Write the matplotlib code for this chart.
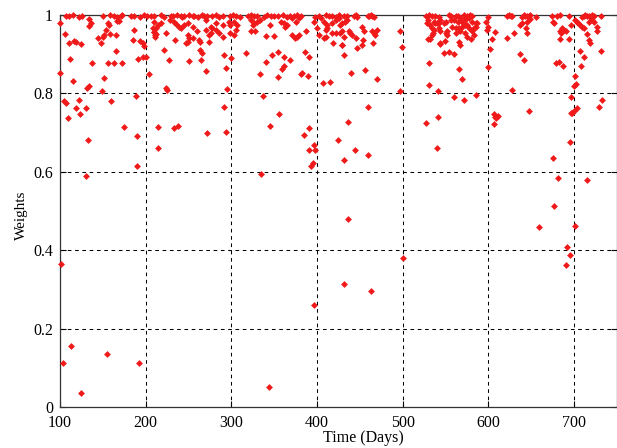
import matplotlib
matplotlib.use("Agg")
import matplotlib.pyplot as plt

# axis ticks
x_ticks = [100, 200, 300, 400, 500, 600, 700]
y_ticks = [0, 0.2, 0.4, 0.6, 0.8, 1.0]
y_tick_labels = ["0", "0.2", "0.4", "0.6", "0.8", "1"]

# points sitting on the top edge (weight ~ 1)
top_days = [107, 111, 115, 122, 126, 150, 159, 163, 167, 171, 173, 183, 187, 194, 198, 202,
            206, 210, 218, 222, 230, 232, 237, 241, 243, 245, 251, 255, 257, 261, 266, 268,
            272, 278, 282, 286, 290, 298, 302, 306, 310, 319, 323, 327, 330, 338, 342, 346,
            350, 354, 360, 365, 369, 373, 377, 381, 398, 402, 410, 414, 418, 422, 426, 431,
            435, 443, 445, 447, 459, 461, 463, 464, 466, 527, 531, 534, 538, 542, 554, 556,
            562, 564, 571, 573, 575, 577, 579, 581, 600, 622, 624, 626, 628, 639, 641, 643,
            645, 647, 649, 655, 674, 680, 684, 694, 709, 711, 713, 715, 717, 719, 721, 723, 731]
top_weights = [0.998, 0.997, 0.999, 0.996, 0.998, 0.997, 0.999, 0.998, 0.996, 0.998, 0.999,
               0.997, 0.998, 0.996, 0.999, 0.998, 0.997, 0.998, 0.999, 0.996, 0.998, 0.997,
               0.999, 0.998, 0.996, 0.998, 0.999, 0.997, 0.998, 0.996, 0.999, 0.998, 0.997,
               0.998, 0.999, 0.996, 0.998, 0.997, 0.999, 0.998, 0.996, 0.998, 0.999, 0.997,
               0.998, 0.996, 0.999, 0.998, 0.997, 0.998, 0.999, 0.996, 0.998, 0.997, 0.999,
               0.998, 0.996, 0.998, 0.999, 0.997, 0.998, 0.996, 0.999, 0.998, 0.997, 0.998,
               0.999, 0.996, 0.998, 0.997, 0.999, 0.998, 0.996, 0.998, 0.999, 0.997, 0.998,
               0.996, 0.999, 0.998, 0.997, 0.998, 0.999, 0.996, 0.998, 0.997, 0.999, 0.998,
               0.996, 0.998, 0.999, 0.997, 0.998, 0.996, 0.999, 0.998, 0.997, 0.998, 0.999,
               0.996, 0.998, 0.997, 0.999, 0.998, 0.996, 0.998, 0.999, 0.997, 0.998, 0.996,
               0.999, 0.998, 0.997]

# upper band, 0.7 - 0.99
band_days = [
    100, 134, 136, 134, 156, 157, 167, 169, 187, 154, 152, 150, 159, 165, 144, 148, 106, 111,
    117, 119, 125, 185, 194, 197, 198, 209, 210, 211, 165, 191, 197, 200, 112, 138, 156, 163,
    173, 204, 100, 115, 152, 132, 134, 149, 189, 105, 107, 122, 160, 119, 130, 124, 110, 175,
    210, 214, 218, 212, 210, 212, 211, 224, 228, 233, 235, 239, 241, 245, 249, 255, 270, 276,
    282, 290, 297, 299, 303, 307, 305, 299, 303, 290, 286, 282, 278, 276, 274, 270, 260, 255,
    249, 251, 249, 247, 262, 264, 274, 234, 222, 227, 251, 264, 266, 265, 270, 292, 300, 294,
    295, 225, 224, 291, 214, 233, 238,
    323, 326, 330, 334, 325, 323, 328, 340, 345, 350, 358, 361, 365, 363, 371, 375, 379, 371,
    374, 377, 379, 387, 396, 400, 402, 405, 408, 412, 418, 422, 426, 427, 410, 412, 408, 411,
    418, 422, 427, 431, 419, 429, 317, 347, 354, 340, 361, 368, 386, 391, 361, 359, 334, 354,
    381, 383, 389, 407, 415, 337, 356, 345, 391,
    433, 435, 429, 452, 455, 429, 437, 439, 441, 445, 454, 464, 466, 468, 470, 429, 447, 453,
    465, 432, 497, 499, 440, 456, 470, 497, 459, 436,
    530, 528, 532, 538, 542, 536, 535, 534, 529, 532, 543, 531, 531, 541, 541, 527,
    536, 540, 544, 548, 550, 556, 560, 564, 567, 569, 573, 577, 581, 585, 587, 575, 534, 542,
    544, 552, 552, 550, 558, 562, 566, 569, 573, 577, 583, 585, 567, 573, 575, 581, 583, 562,
    543, 549, 566, 567, 580, 548, 554, 560, 566, 569, 560, 571, 585, 597, 599, 598, 608, 604,
    602, 600, 630, 622, 637, 641, 627, 606, 608, 609, 611, 606,
    639, 637, 645, 649, 644, 645, 675, 677, 696, 701, 703, 705, 707, 709, 711, 717, 721, 723,
    727, 727, 686, 688, 690, 684, 685, 683, 694, 715, 717, 719, 679, 682, 687, 707, 712, 731,
    708, 701, 702, 700, 696, 733, 729, 703, 700, 698, 696, 647]
band_weights = [
    0.980, 0.989, 0.979, 0.972, 0.980, 0.974, 0.985, 0.985, 0.962, 0.962, 0.949, 0.945, 0.951,
    0.949, 0.941, 0.928, 0.952, 0.928, 0.934, 0.931, 0.925, 0.936, 0.934, 0.928, 0.922, 0.966,
    0.957, 0.949, 0.908, 0.889, 0.894, 0.894, 0.889, 0.877, 0.877, 0.877, 0.877, 0.849, 0.851,
    0.832, 0.840, 0.813, 0.819, 0.806, 0.793, 0.781, 0.776, 0.783, 0.781, 0.762, 0.762, 0.747,
    0.736, 0.715,
    0.983, 0.974, 0.979, 0.966, 0.957, 0.952, 0.945, 0.953, 0.987, 0.983, 0.977, 0.970, 0.966,
    0.975, 0.979, 0.970, 0.987, 0.970, 0.979, 0.975, 0.983, 0.975, 0.983, 0.975, 0.962, 0.953,
    0.949, 0.945, 0.955, 0.962, 0.966, 0.953, 0.949, 0.962, 0.958, 0.941, 0.949, 0.941, 0.932,
    0.928, 0.936, 0.932, 0.932, 0.935, 0.912, 0.885, 0.883, 0.911, 0.904, 0.885, 0.856, 0.898,
    0.890, 0.864, 0.810, 0.809, 0.813, 0.766, 0.715, 0.711, 0.718,
    0.987, 0.979, 0.983, 0.987, 0.975, 0.958, 0.958, 0.946, 0.975, 0.946, 0.983, 0.979, 0.975,
    0.970, 0.992, 0.983, 0.992, 0.949, 0.941, 0.945, 0.949, 0.958, 0.981, 0.966, 0.949, 0.992,
    0.983, 0.975, 0.979, 0.987, 0.992, 0.975, 0.962, 0.966, 0.941, 0.945, 0.953, 0.953, 0.953,
    0.945, 0.928, 0.924, 0.902, 0.898, 0.906, 0.881, 0.894, 0.884, 0.906, 0.894, 0.870, 0.861,
    0.849, 0.843, 0.849, 0.853, 0.845, 0.827, 0.830, 0.793, 0.748, 0.717, 0.711,
    0.983, 0.987, 0.979, 0.969, 0.958, 0.958, 0.958, 0.953, 0.949, 0.941, 0.936, 0.958, 0.953,
    0.949, 0.962, 0.924, 0.915, 0.924, 0.928, 0.898, 0.960, 0.919, 0.851, 0.860, 0.838, 0.806,
    0.766, 0.726,
    0.987, 0.979, 0.975, 0.979, 0.979, 0.962, 0.953, 0.949, 0.938, 0.938, 0.928, 0.877, 0.822,
    0.805, 0.739, 0.724,
    0.983, 0.979, 0.987, 0.979, 0.983, 0.987, 0.987, 0.983, 0.992, 0.983, 0.987, 0.992, 0.983,
    0.979, 0.980, 0.975, 0.966, 0.966, 0.958, 0.958, 0.949, 0.953, 0.970, 0.966, 0.966, 0.970,
    0.975, 0.966, 0.966, 0.970, 0.958, 0.953, 0.945, 0.958, 0.949, 0.953, 0.925, 0.934, 0.932,
    0.924, 0.938, 0.902, 0.905, 0.900, 0.861, 0.838, 0.790, 0.783, 0.796, 0.983, 0.970, 0.962,
    0.956, 0.938, 0.913, 0.868, 0.955, 0.941, 0.900, 0.884, 0.808, 0.748, 0.741, 0.737, 0.743,
    0.722,
    0.979, 0.975, 0.983, 0.989, 0.966, 0.953, 0.983, 0.979, 0.975, 0.987, 0.983, 0.979, 0.975,
    0.970, 0.966, 0.983, 0.987, 0.983, 0.970, 0.960, 0.966, 0.962, 0.958, 0.958, 0.953, 0.938,
    0.938, 0.952, 0.936, 0.929, 0.877, 0.881, 0.870, 0.907, 0.894, 0.907, 0.870, 0.845, 0.823,
    0.819, 0.790, 0.783, 0.766, 0.764, 0.754, 0.751, 0.749, 0.754]

# scattered low weights
low_days = [133, 190, 214, 272, 294, 190, 130, 335, 385, 396, 391, 398, 395, 393, 425, 101,
            444, 459, 432, 540, 695, 675, 681, 715, 676, 436, 659, 701, 692, 695, 691, 500,
            431, 463, 104, 113, 125, 155, 192, 344, 397]
low_weights = [0.682, 0.691, 0.660, 0.699, 0.701, 0.616, 0.589, 0.595, 0.694, 0.669, 0.655,
               0.655, 0.623, 0.616, 0.682, 0.365, 0.655, 0.644, 0.630, 0.660, 0.676, 0.635,
               0.584, 0.580, 0.512, 0.479, 0.460, 0.463, 0.408, 0.389, 0.361, 0.381, 0.314,
               0.297, 0.113, 0.156, 0.037, 0.135, 0.113, 0.050, 0.261]

plt.rcParams["font.family"] = ["Liberation Serif", "DejaVu Serif"]

fig = plt.figure(figsize=(6.17, 4.48), dpi=100)
ax = fig.add_axes([0.097, 0.0915, 0.903, 0.875])

for d, w in [(top_days, top_weights), (band_days, band_weights), (low_days, low_weights)]:
    ax.plot(d, w, linestyle="none", marker="D", markersize=3.5, color="#f01a1a",
            markeredgewidth=0, clip_on=False, zorder=3)

ax.set_xlim(100, 750)
ax.set_ylim(0, 1)
ax.set_xticks(x_ticks)
ax.set_yticks(y_ticks)
ax.set_yticklabels(y_tick_labels)
ax.grid(True, color="black", linestyle=(0, (3.5, 3.5)), linewidth=0.75)
ax.tick_params(direction="in", length=4, labelsize=11.5, top=True, right=True)
ax.tick_params(axis="x", pad=5.5)
ax.tick_params(axis="y", pad=5)
for s in ax.spines.values():
    s.set_color("#333333")
    s.set_linewidth(0.9)

ax.set_xlabel("Time (Days)", fontsize=11.5)
ax.xaxis.set_label_coords(0.544, -0.058)
ax.set_ylabel("Weights", fontsize=11)
ax.yaxis.set_label_coords(-0.058, 0.49)

fig.savefig("out.png", dpi=100, facecolor="white")
